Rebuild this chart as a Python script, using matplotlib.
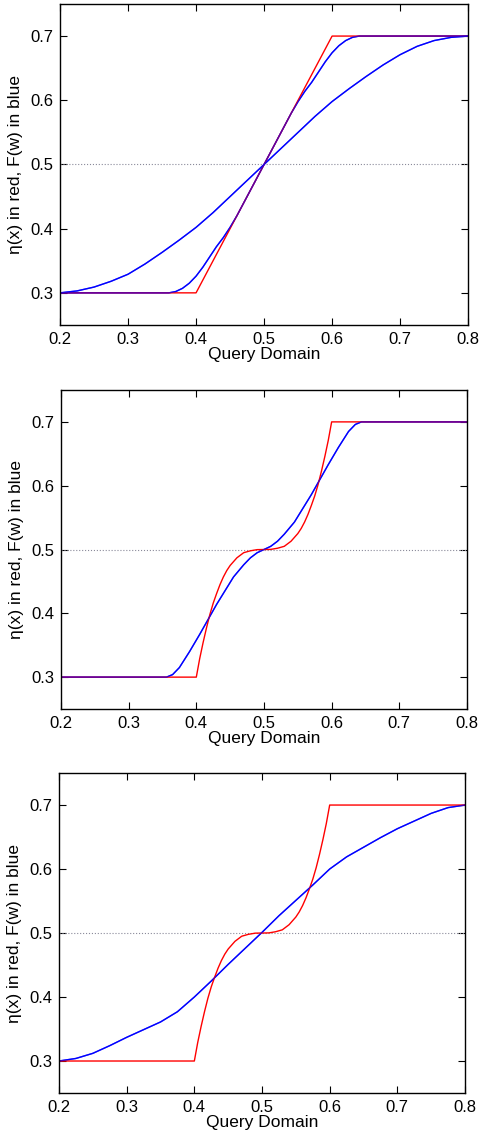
import matplotlib
matplotlib.use("Agg")
import matplotlib.pyplot as plt

# ── red target curves ────────────────────────────────────────────────
eta_ramp_x = [0.2, 0.4, 0.6, 0.8]
eta_ramp_y = [0.3, 0.3, 0.7, 0.7]

eta_cubic_x = [0.2, 0.4, 0.405, 0.41, 0.415, 0.42, 0.425, 0.43, 0.435, 0.44, 0.445,
               0.45, 0.46, 0.47, 0.48, 0.49, 0.5, 0.51, 0.52, 0.53, 0.54, 0.55,
               0.555, 0.56, 0.565, 0.57, 0.575, 0.58, 0.585, 0.59, 0.595, 0.6, 0.8]
eta_cubic_y = [0.3, 0.3, 0.329, 0.354, 0.377, 0.398, 0.416, 0.431, 0.445, 0.457, 0.467,
               0.475, 0.487, 0.495, 0.498, 0.4998, 0.5, 0.5002, 0.502, 0.505, 0.513, 0.525,
               0.533, 0.543, 0.555, 0.569, 0.584, 0.602, 0.623, 0.646, 0.671, 0.7, 0.7]

# ── blue fitted curves ───────────────────────────────────────────────
fit1a_x = [0.2, 0.36, 0.37, 0.38, 0.39, 0.40, 0.41, 0.42, 0.43, 0.44, 0.45, 0.46,
           0.5, 0.54, 0.55, 0.56, 0.57, 0.58, 0.59, 0.60, 0.61, 0.62, 0.63, 0.64, 0.8]
fit1a_y = [0.3, 0.3, 0.302, 0.307, 0.315, 0.326, 0.340, 0.356, 0.372, 0.386, 0.402, 0.42,
           0.5, 0.58, 0.598, 0.614, 0.628, 0.644, 0.66, 0.674, 0.685, 0.693, 0.698, 0.7, 0.7]

fit1b_x = [0.2, 0.225, 0.25, 0.275, 0.3, 0.325, 0.35, 0.375, 0.4, 0.425, 0.45, 0.475,
           0.5, 0.525, 0.55, 0.575, 0.6, 0.625, 0.65, 0.675, 0.7, 0.725, 0.75, 0.775, 0.8]
fit1b_y = [0.3, 0.303, 0.309, 0.318, 0.329, 0.345, 0.363, 0.382, 0.402, 0.425, 0.45, 0.475,
           0.5, 0.525, 0.55, 0.575, 0.598, 0.618, 0.637, 0.655, 0.671, 0.684, 0.693, 0.698, 0.7]

fit2_x = [0.2, 0.356, 0.365, 0.375, 0.381, 0.39, 0.405, 0.43, 0.455, 0.47, 0.48, 0.49,
          0.5, 0.51, 0.52, 0.53, 0.545, 0.57, 0.595, 0.61, 0.619, 0.625, 0.635, 0.644, 0.8]
fit2_y = [0.3, 0.3, 0.304, 0.315, 0.325, 0.34, 0.367, 0.414, 0.457, 0.476, 0.487, 0.495,
          0.5, 0.505, 0.513, 0.524, 0.543, 0.586, 0.633, 0.66, 0.675, 0.685, 0.696, 0.7, 0.7]

fit3_x = [0.2, 0.225, 0.25, 0.275, 0.3, 0.325, 0.35, 0.375, 0.4, 0.425, 0.45, 0.475,
          0.5, 0.525, 0.55, 0.575, 0.6, 0.625, 0.65, 0.675, 0.7, 0.725, 0.75, 0.775, 0.8]
fit3_y = [0.3, 0.304, 0.312, 0.324, 0.337, 0.349, 0.361, 0.377, 0.400, 0.425, 0.451, 0.476,
          0.501, 0.527, 0.551, 0.575, 0.600, 0.619, 0.634, 0.649, 0.663, 0.675, 0.687, 0.696, 0.7]

panels = [
    (eta_ramp_x, eta_ramp_y, [(fit1a_x, fit1a_y), (fit1b_x, fit1b_y)]),
    (eta_cubic_x, eta_cubic_y, [(fit2_x, fit2_y)]),
    (eta_cubic_x, eta_cubic_y, [(fit3_x, fit3_y)]),
]

axes_rects = [
    [0.1253, 0.7137, 0.852, 0.2828],
    [0.1273, 0.3753, 0.8476, 0.2811],
    [0.1232, 0.0370, 0.8476, 0.2819],
]

xticks = [0.2, 0.3, 0.4, 0.5, 0.6, 0.7, 0.8]
yticks = [0.3, 0.4, 0.5, 0.6, 0.7]

plt.rcParams["font.family"] = ["Liberation Sans", "DejaVu Sans"]

fig = plt.figure(figsize=(4.79, 11.35), dpi=100)

for rect, (ex, ey, fits) in zip(axes_rects, panels):
    ax = fig.add_axes(rect)
    ax.axhline(0.5, color="#8a8a9a", linestyle=":", linewidth=0.8)
    for fx, fy in fits:
        ax.plot(fx, fy, color="blue", linewidth=1.0)
    ax.plot(ex, ey, color="red", linewidth=1.0)
    # blue drawn again, translucent, so overlaps look purple as in the source
    for fx, fy in fits:
        ax.plot(fx, fy, color="blue", linewidth=1.0, alpha=0.6)
    ax.set_xlim(0.2, 0.8)
    ax.set_ylim(0.25, 0.75)
    ax.set_xticks(xticks)
    ax.set_yticks(yticks)
    ax.set_xticklabels([f"{t:.1f}" for t in xticks])
    ax.set_yticklabels([f"{t:.1f}" for t in yticks])
    ax.tick_params(direction="in", top=True, right=True, length=5,
                   labelsize=12, pad=5)
    for sp in ax.spines.values():
        sp.set_linewidth(1.0)
    ax.set_xlabel("Query Domain", fontsize=12.5, labelpad=0)
    ax.set_ylabel("η(x) in red, F(w) in blue", fontsize=12.5, labelpad=5)

fig.savefig("out.png", dpi=100)
